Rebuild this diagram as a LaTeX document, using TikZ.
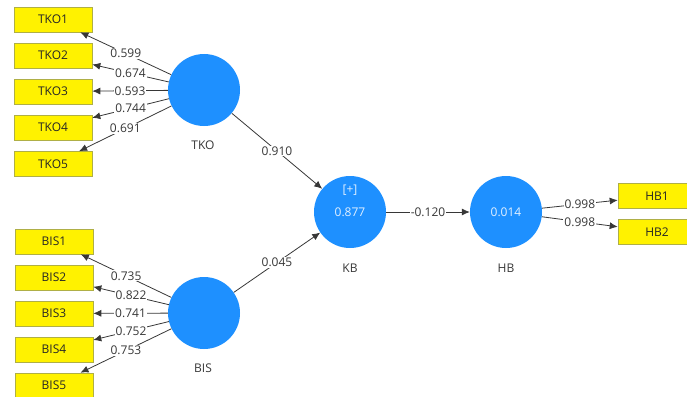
\documentclass[tikz,border=0pt]{standalone}
\usepackage{fontspec}
\setmainfont{Open Sans}
\usetikzlibrary{arrows.meta}
\definecolor{lvblue}{RGB}{30,144,255}
\definecolor{mvborder}{RGB}{175,175,70}
\definecolor{linegray}{RGB}{55,55,55}
\definecolor{labelgray}{RGB}{55,55,55}
\definecolor{intextc}{RGB}{225,240,255}
\begin{document}
\begin{tikzpicture}[x=1pt,y=-1pt,
  font=\fontsize{12}{14}\selectfont,
  lv/.style={circle, fill=lvblue, minimum size=72pt, inner sep=0pt, text=intextc},
  mv/.style={rectangle, fill=yellow, draw=mvborder, line width=0.6pt, minimum width=78pt, minimum height=25pt, inner sep=0pt, text=black!85},
  conn/.style={draw=linegray, line width=0.8pt, -{Latex[length=8pt,width=7pt]}},
  wt/.style={fill=white, inner sep=1pt, text=labelgray},
  lvcaption/.style={text=labelgray},
  intext/.style={text=intextc, inner sep=0pt}
]
\useasboundingbox (0,0) rectangle (687,396);

% indicator boxes
\node[mv] (tko1) at (53,19.5) {TKO1};
\node[mv] (tko2) at (53,55.5) {TKO2};
\node[mv] (tko3) at (53,91.5) {TKO3};
\node[mv] (tko4) at (53,127.5) {TKO4};
\node[mv] (tko5) at (53,164) {TKO5};

\node[mv] (bis1) at (54,241.5) {BIS1};
\node[mv] (bis2) at (54,277.5) {BIS2};
\node[mv] (bis3) at (54,313.5) {BIS3};
\node[mv] (bis4) at (54,349.5) {BIS4};
\node[mv] (bis5) at (54,385.5) {BIS5};

\node[mv] (hb1) at (657,196) {HB1};
\node[mv] (hb2) at (657,232) {HB2};

% latent variables
\node[lv] (tko) at (204,90) {};
\node[lv] (bis) at (204,313) {};
\node[lv] (kb) at (350,212) {0.877};
\node[lv] (hb) at (506,212) {0.014};
\node[intext] (kbplus) at (350,190) {[+]};

\node[lvcaption] (tkolab) at (203,145) {TKO};
\node[lvcaption] (bislab) at (203,368) {BIS};
\node[lvcaption] (kblab) at (350,268) {KB};
\node[lvcaption] (hblab) at (506,268) {HB};

% outer loadings
\draw[conn] (tko) -- node[wt]{0.599} (tko1);
\draw[conn] (tko) -- node[wt]{0.674} (tko2);
\draw[conn] (tko) -- node[wt]{0.593} (tko3);
\draw[conn] (tko) -- node[wt]{0.744} (tko4);
\draw[conn] (tko) -- node[wt]{0.691} (tko5);

\draw[conn] (bis) -- node[wt]{0.735} (bis1);
\draw[conn] (bis) -- node[wt]{0.822} (bis2);
\draw[conn] (bis) -- node[wt]{0.741} (bis3);
\draw[conn] (bis) -- node[wt]{0.752} (bis4);
\draw[conn] (bis) -- node[wt]{0.753} (bis5);

\draw[conn] (hb) -- node[wt]{0.998} (hb1);
\draw[conn] (hb) -- node[wt]{0.998} (hb2);

% path coefficients
\draw[conn] (tko) -- node[wt]{0.910} (kb);
\draw[conn] (bis) -- node[wt]{0.045} (kb);
\draw[conn] (kb) -- node[wt]{-0.120} (hb);
\end{tikzpicture}
\end{document}
